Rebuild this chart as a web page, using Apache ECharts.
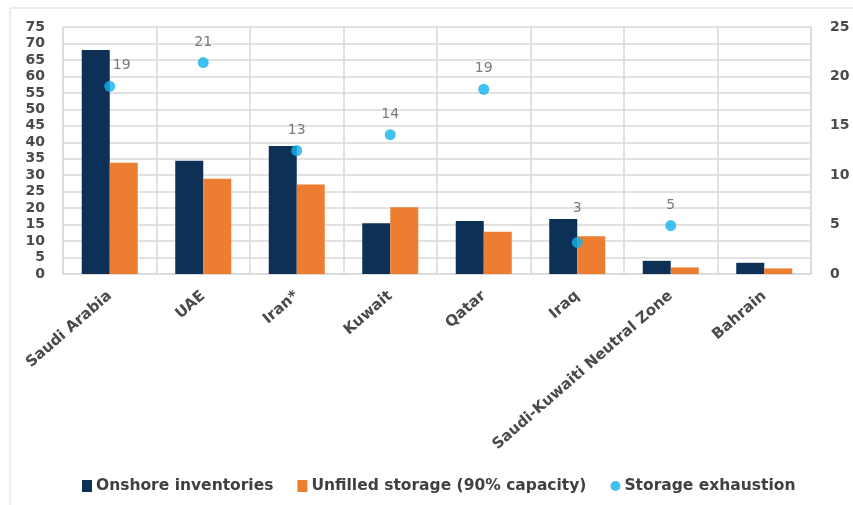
<!DOCTYPE html>
<html><head><meta charset="utf-8">
<script src="https://cdn.jsdelivr.net/npm/echarts@6/dist/echarts.min.js"></script>
<style>html,body{margin:0;padding:0;background:#fff}#c{width:853px;height:505px}</style>
</head><body><div id="c"></div>
<script>
const categories = ["Saudi Arabia","UAE","Iran*","Kuwait","Qatar","Iraq","Saudi-Kuwaiti Neutral Zone","Bahrain"];
const onshore = [68, 34.4, 38.9, 15.4, 16.1, 16.7, 4.0, 3.4];
const unfilled = [33.8, 28.9, 27.2, 20.3, 12.8, 11.5, 2.0, 1.7];
const exhaustion = [19, 21.4, 12.5, 14.1, 18.7, 3.2, 4.9, null];
const exhaustionLabels = ["19","21","13","14","19","3","5",""];
const leftTicks = {min:0, max:75, interval:5};
const rightTicks = {min:0, max:25, interval:5};

const chart = echarts.init(document.getElementById('c'), null, {renderer:'canvas'});
const grey = '#d9d9d9';
const FONT = 'DejaVu Sans';
const axisText = {color:'#4a4a4a', fontFamily:FONT, fontWeight:'bold', fontSize:14};
chart.setOption({
  animation:false,
  graphic:[{type:'rect', shape:{x:10,y:8,width:860,height:520}, style:{fill:'none', stroke:'#d9d9d9', lineWidth:1}, silent:true}],
  grid:{left:63, right:42, top:27, bottom:231},
  legend:{
    top:473, left:77, itemGap:24,
    textStyle:{color:'#404040', fontFamily:FONT, fontWeight:'bold', fontSize:15.5, padding:[0,0,0,-1]},
    data:[
      {name:'Onshore inventories', icon:'rect'},
      {name:'Unfilled storage (90% capacity)', icon:'rect'},
      {name:'Storage exhaustion', icon:'circle'}
    ],
    itemWidth:10, itemHeight:12
  },
  xAxis:{
    type:'category', data:categories,
    axisLine:{show:true, lineStyle:{color:grey, width:1.5}},
    axisTick:{show:false},
    splitLine:{show:true, interval:0, lineStyle:{color:grey, width:1.5}},
    axisLabel:{rotate:41, interval:0, margin:20, fontSize:15, color:'#4a4a4a', fontFamily:FONT, fontWeight:'bold'}
  },
  yAxis:[
    {type:'value', min:leftTicks.min, max:leftTicks.max, interval:leftTicks.interval,
     axisLine:{show:true, lineStyle:{color:grey, width:1.5}}, axisTick:{show:false},
     splitLine:{show:true, lineStyle:{color:grey, width:1.5}},
     axisLabel:Object.assign({margin:18}, axisText)},
    {type:'value', min:rightTicks.min, max:rightTicks.max, interval:rightTicks.interval,
     axisLine:{show:true, lineStyle:{color:grey, width:1.5}}, axisTick:{show:false},
     splitLine:{show:false},
     axisLabel:Object.assign({margin:19}, axisText)}
  ],
  series:[
    {name:'Onshore inventories', type:'bar', data:onshore, barWidth:28, barGap:'0%',
     itemStyle:{color:'#0d3056'}},
    {name:'Unfilled storage (90% capacity)', type:'bar', data:unfilled, barWidth:28,
     itemStyle:{color:'#ec7d31'}},
    {name:'Storage exhaustion', type:'scatter', yAxisIndex:1, symbolSize:11,
     itemStyle:{color:'#12b2ec'}, z:5,
     data:exhaustion.map((v,i)=>{
       const d = {value:v};
       if (i===0) d.label = {offset:[12,0]};
       if (i===5) d.label = {distance:22};
       return d;
     }),
     label:{show:true, position:'top', distance:8, color:'#595959', fontFamily:FONT, fontSize:14,
       formatter:p=>exhaustionLabels[p.dataIndex]}
    }
  ]
});
</script></body></html>
